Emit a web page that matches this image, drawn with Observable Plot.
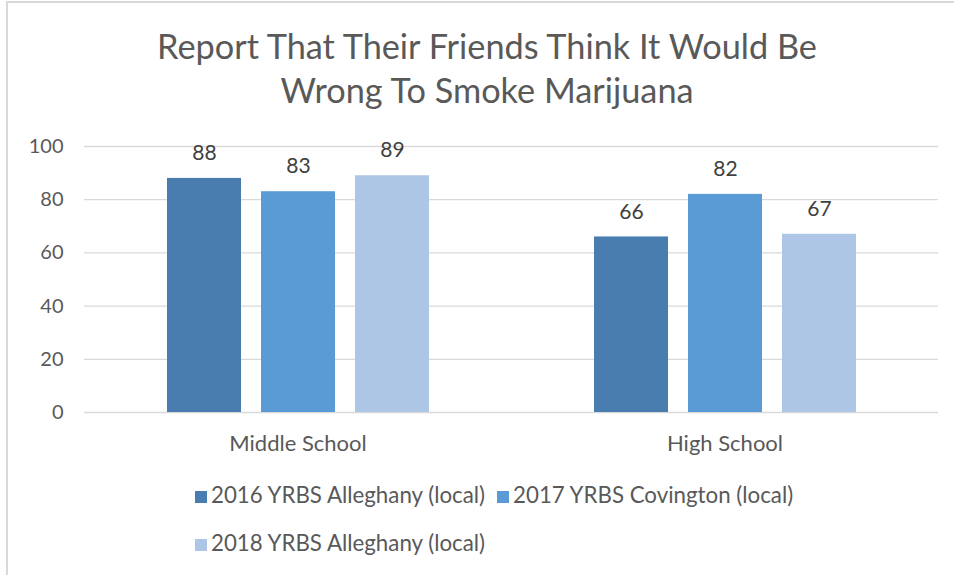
<!DOCTYPE html>
<html>
<head>
<meta charset="utf-8">
<script src="https://cdn.jsdelivr.net/npm/d3@7"></script>
<script src="https://cdn.jsdelivr.net/npm/@observablehq/plot@0.6"></script>
<style>
  html, body { margin: 0; padding: 0; background: #fff; overflow: hidden; }
  #wrap { position: relative; width: 954px; height: 575px; font-family: Lato, "Open Sans", sans-serif; color: #595959; }
  #frame { position: absolute; left: 6px; top: 1px; width: 960px; height: 580px; border-left: 2px solid #d9d9d9; border-top: 2px solid #d9d9d9; box-sizing: border-box; }
  #title { position: absolute; left: 0; top: 24px; width: 974px; text-align: center; font-size: 34.3px; line-height: 44px; color: #595959; }
  #chart { position: absolute; left: 0; top: 0; }
  #chart g[aria-label^="fx-axis"] text { font-size: 22px; }
  #chart g[aria-label^="y-axis"] text { font-size: 20px; }
  #legend { position: absolute; left: 195px; top: 471px; width: 640px; font-size: 22.3px; line-height: 48px; color: #595959; }
  .item { display: inline-block; white-space: nowrap; margin-right: 12px; }
  .sw { display: inline-block; width: 12px; height: 12px; margin-right: 4px; vertical-align: 0px; }
</style>
</head>
<body>
<div id="wrap">
  <div id="frame"></div>
  <div id="chart"></div>
  <div id="title">Report That Their Friends Think It Would Be<br>Wrong To Smoke Marijuana</div>
  <div id="legend"></div>
</div>
<script>
const categories = ["Middle School", "High School"];
const series = ["2016 YRBS Alleghany (local)", "2017 YRBS Covington (local)", "2018 YRBS Alleghany (local)"];
const values2016 = [88, 66];
const values2017 = [83, 82];
const values2018 = [89, 67];
const yTicks = [0, 20, 40, 60, 80, 100];
const colors = ["#4a7daf", "#5b9bd5", "#adc6e6"];

const seriesValues = [values2016, values2017, values2018];
const data = [];
categories.forEach((cat, i) => {
  series.forEach((s, j) => data.push({cat, series: s, value: seriesValues[j][i]}));
});

const chart = Plot.plot({
  width: 954,
  height: 575,
  marginTop: 146,
  marginBottom: 163,
  marginLeft: 83,
  marginRight: 16,
  style: {fontFamily: "Lato, 'Open Sans', sans-serif", fontSize: "18px", color: "#595959", background: "transparent"},
  fx: {domain: categories, paddingInner: 0, paddingOuter: 0, label: null, tickSize: 0, tickPadding: 23, axis: "bottom"},
  x: {domain: series, axis: null, paddingInner: 0.217, paddingOuter: 0.87},
  y: {domain: [0, 100], ticks: yTicks, tickSize: 0, tickPadding: 21, label: null},
  color: {domain: series, range: colors},
  marks: [
    Plot.ruleY(yTicks, {stroke: "#d9d9d9", strokeWidth: 1.3}),
    Plot.barY(data, {fx: "cat", x: "series", y: "value", fill: "series"}),
    Plot.text(data, {fx: "cat", x: "series", y: "value", text: d => String(d.value), dy: -25, fill: "#404040", fontSize: 21})
  ]
});
document.getElementById("chart").appendChild(chart);

const legend = document.getElementById("legend");
series.forEach((s, i) => {
  const item = document.createElement("span");
  item.className = "item";
  const sw = document.createElement("span");
  sw.className = "sw";
  sw.style.background = colors[i];
  item.appendChild(sw);
  item.appendChild(document.createTextNode(s));
  legend.appendChild(item);
});
</script>
</body>
</html>
